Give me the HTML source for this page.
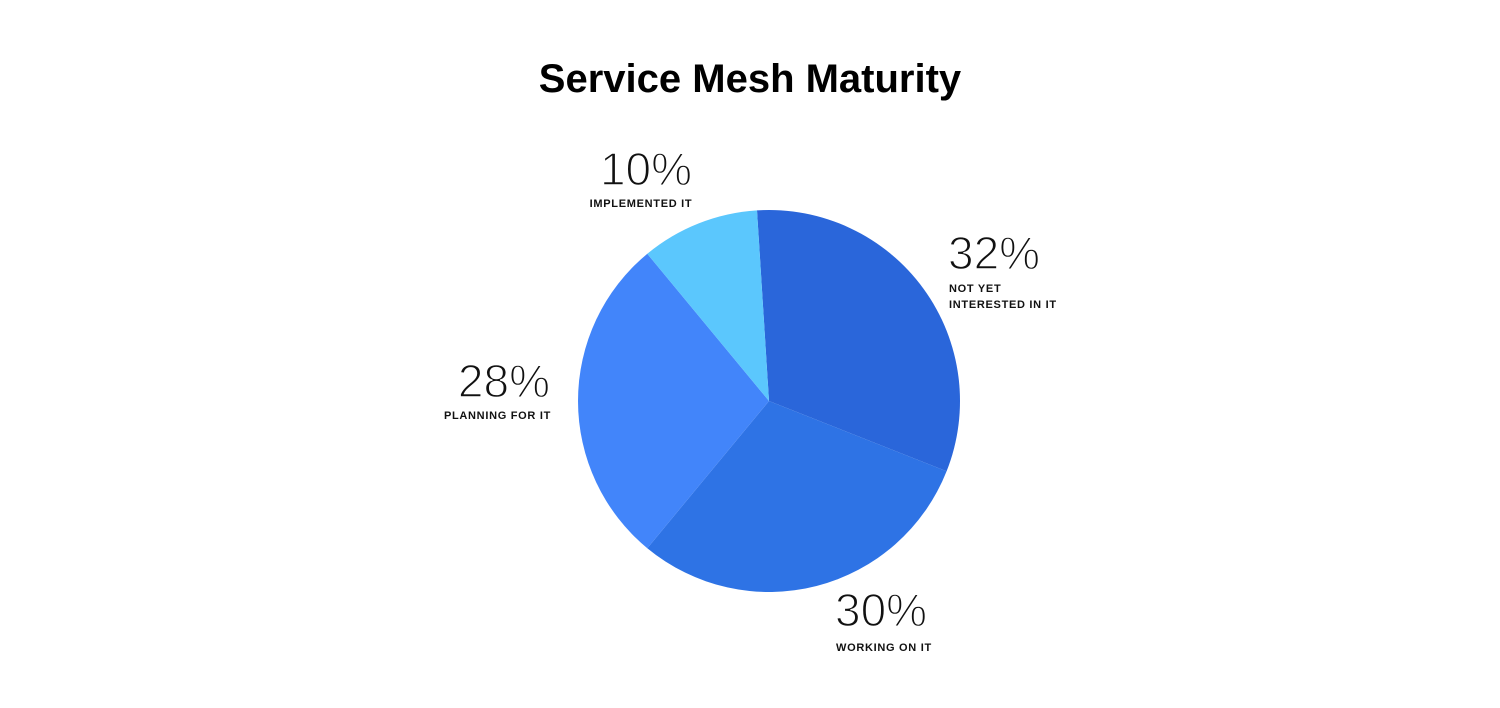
<!DOCTYPE html>
<html><head><meta charset="utf-8"><style>
html,body{margin:0;padding:0;background:#fff;}
svg{display:block;font-family:"Liberation Sans",sans-serif;}
.n{font-size:46px;fill:#111;stroke:#fff;stroke-width:1.4px;paint-order:normal}
.l{font-size:11px;font-weight:bold;fill:#111;letter-spacing:0.7px}
</style></head><body>
<svg width="1500" height="708" viewBox="0 0 1500 708">
<text x="750" y="92" text-anchor="middle" font-size="40" font-weight="bold" fill="#000">Service Mesh Maturity</text>
<path d="M769 401 L757.0 210.4 A191 191 0 0 1 946.6 471.3 Z" fill="#2A66DA"/>
<path d="M769 401 L946.6 471.3 A191 191 0 0 1 647.3 548.2 Z" fill="#2E73E5"/>
<path d="M769 401 L647.3 548.2 A191 191 0 0 1 647.3 253.8 Z" fill="#4285FA"/>
<path d="M769 401 L647.3 253.8 A191 191 0 0 1 757.0 210.4 Z" fill="#5BC7FD"/>
<text class="n" x="646" y="185" text-anchor="middle">10%</text>
<text class="l" x="641" y="207" text-anchor="middle">IMPLEMENTED IT</text>
<text class="n" x="948" y="269">32%</text>
<text class="l" x="949" y="292">NOT YET</text>
<text class="l" x="949" y="308">INTERESTED IN IT</text>
<text class="n" x="550" y="397" text-anchor="end">28%</text>
<text class="l" x="551" y="419" text-anchor="end">PLANNING FOR IT</text>
<text class="n" x="835" y="626">30%</text>
<text class="l" x="836" y="651">WORKING ON IT</text>
</svg>
</body></html>
